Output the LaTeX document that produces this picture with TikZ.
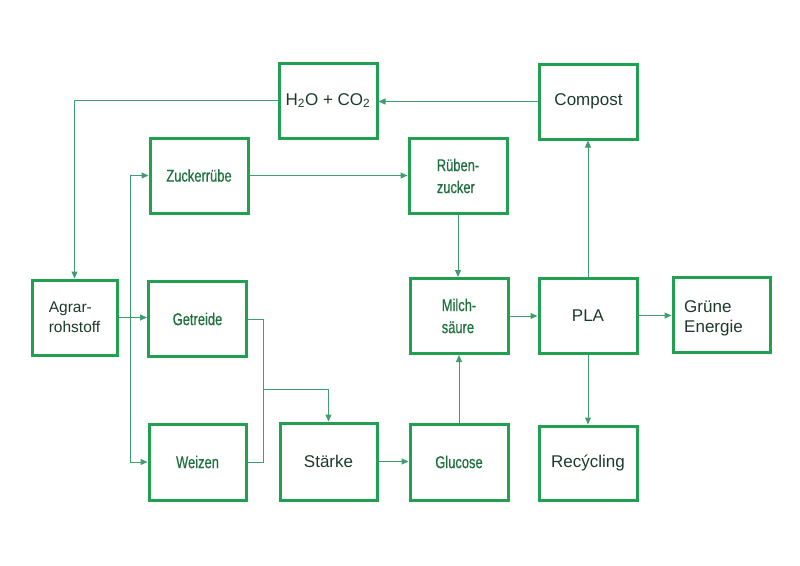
\documentclass[tikz,border=0pt]{standalone}
\usepackage{fontspec}
\setmainfont{Liberation Sans}
\newfontfamily\narrowf[FakeStretch=0.76,FakeBold=0.6]{Liberation Sans}
\usetikzlibrary{arrows.meta}
\definecolor{boxgreen}{HTML}{22A052}
\definecolor{linegreen}{HTML}{3E9E6E}
\definecolor{darktxt}{HTML}{1C3A2A}
\definecolor{greentxt}{HTML}{1E713E}
\tikzset{
  box/.style={draw=boxgreen, line width=3pt, minimum width=98pt, minimum height=75pt, inner sep=0pt, align=center},
  bigtxt/.style={text=darktxt, font=\fontsize{17}{20}\selectfont},
  smalltxt/.style={text=greentxt, font=\narrowf\fontsize{17}{22}\selectfont},
  conn/.style={draw=linegreen, line width=1pt, -{Triangle[length=7pt,width=6pt]}},
  plain/.style={draw=linegreen, line width=1pt}
}
\begin{document}
\begin{tikzpicture}[x=1pt,y=-1pt]
\useasboundingbox (0,0) rectangle (800,565);
\node[box,bigtxt] (h2o) at (328,100.5) {H\textsubscript{2}O + CO\textsubscript{2}};
\node[box,bigtxt] (compost) at (588.5,101.5) {Compost};
\node[box,smalltxt] (zucker) at (199,175.5) {Zuckerrübe};
\node[box,smalltxt,align=left] (rueben) at (458,176) {Rüben-\\zucker};
\node[box,bigtxt,minimum width=85pt,align=left,font=\fontsize{15.5}{20}\selectfont] (agrar) at (74.5,317.5) {Agrar-\\rohstoff};
\node[box,smalltxt] (getreide) at (197.5,319) {Getreide};
\node[box,smalltxt,align=left] (milch) at (459,316) {Milch-\\säure};
\node[box,bigtxt] (pla) at (588,315.5) {PLA};
\node[box,minimum width=97pt] (gruene) at (721.5,314.5) {};
\node[bigtxt,anchor=west,align=left,inner sep=0pt] (gruenetxt) at (684,318) {Grüne\\Energie};
\node[box,smalltxt,minimum width=97pt,minimum height=76pt] (weizen) at (197.5,462) {Weizen};
\node[box,bigtxt,minimum width=97pt,minimum height=77pt] (staerke) at (328.5,461.5) {Stärke};
\node[box,smalltxt,minimum height=76pt] (glucose) at (459,462) {Glucose};
\node[box,bigtxt,minimum height=74pt] (recycling) at (588,463) {Recýcling};

\coordinate (spine) at (130,0);
\coordinate (gx) at (263,0);
\coordinate (jn) at (263,389);

\draw[conn] (compost.west) -- (compost.west -| h2o.east);
\draw[conn] (h2o.west) -| (agrar.north);
\draw[conn] (agrar.east) -- (agrar.east -| getreide.west);
\draw[conn] (spine |- agrar.east) |- (zucker.west);
\draw[conn] (spine |- agrar.east) |- (weizen.west);
\draw[conn] (zucker.east) -- (zucker.east -| rueben.west);
\draw[conn] (rueben.south) -- (rueben.south |- milch.north);
\draw[plain] (getreide.east) -| (gx |- weizen.east) -- (weizen.east);
\draw[conn] (jn) -| (staerke.north);
\draw[conn] (staerke.east) -- (staerke.east -| glucose.west);
\draw[conn] (glucose.north) -- (glucose.north |- milch.south);
\draw[conn] (milch.east) -- (milch.east -| pla.west);
\draw[conn] (pla.north) -- (pla.north |- compost.south);
\draw[conn] (pla.east) -- (pla.east -| gruene.west);
\draw[conn] (pla.south) -- (pla.south |- recycling.north);
\end{tikzpicture}
\end{document}
